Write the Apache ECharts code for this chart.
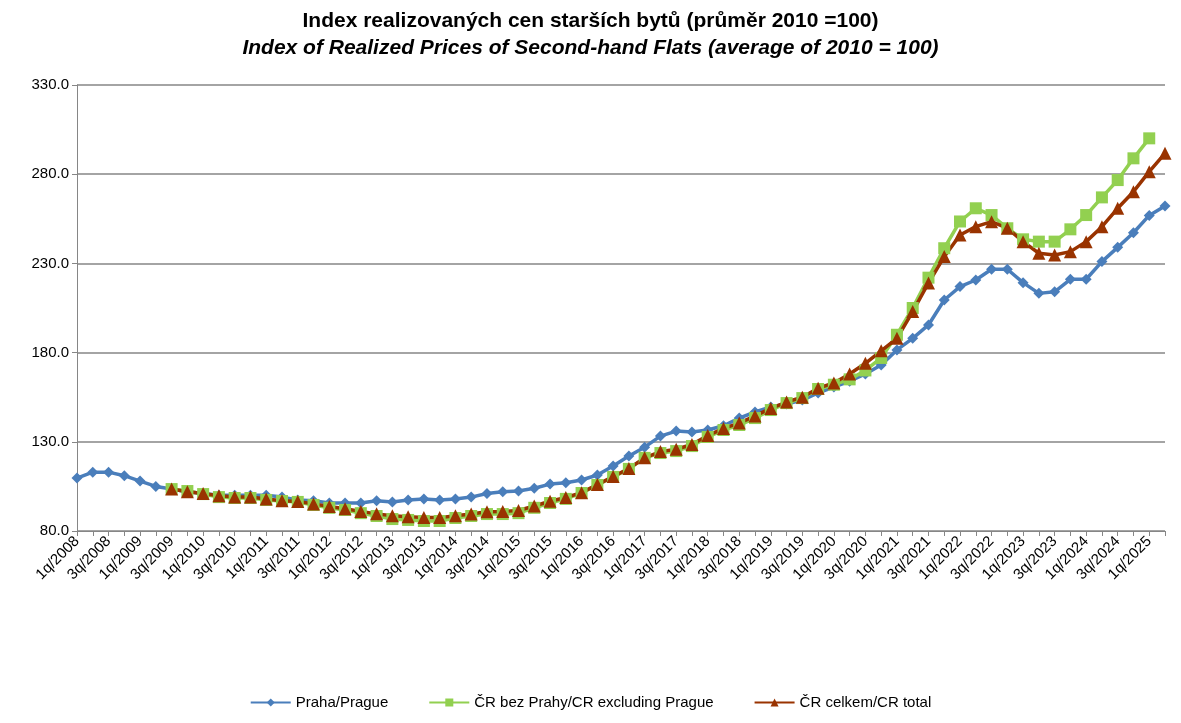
<!DOCTYPE html>
<html><head><meta charset="utf-8">
<script src="https://cdn.jsdelivr.net/npm/echarts@6/dist/echarts.min.js"></script>
<style>html,body{margin:0;padding:0;background:#fff}#c{width:1181px;height:723px}</style>
</head><body><div id="c"></div>
<script>
const categories = [];
for (let y = 2008; y <= 2025; y++) for (let q = 1; q <= 4; q++) { if (y === 2025 && q > 2) break; categories.push(q + 'q/' + y); }
const praha = [109.7,113,113,111,108,105,103.5,102,101,100,100,100,100,99,97.4,97,95.7,95.7,95.7,97,96.3,97.4,98,97.4,98,99,101,102,102.4,104,106.3,107,108.6,111.4,116.4,122,127,133.2,136,135.5,136.6,139,143.3,146.7,149.5,151.2,153.4,157.4,160.7,164,168,173,181.5,188,195.5,209.5,217,220.7,226.7,226.7,219.2,213.2,214.1,221.1,221.1,231,239,247.2,256.9,262.2];
const crBezPrahy = [null,null,null,null,null,null,103.5,102.4,100.7,99,98.5,98.5,97.4,96.8,96.3,94.6,93,91.8,90,88.4,86.7,86.2,85.6,85.6,87.3,88.4,89.5,89.5,90,93,95.7,98,101.3,105.8,110.3,114.8,121,123.7,124.8,127.6,132.7,136.6,139.4,143.3,147.8,151.7,154.5,159.6,162,165,170,177,190,205,222,238.5,253.5,260.9,257.1,249.7,243.5,242.2,242.2,249.1,257.1,267,276.7,288.9,300.1];
const crCelkem = [null,null,null,null,null,null,103.5,102,101,99.8,99,99,98,97,96.5,95.2,93.7,92.5,91,89.6,88.5,88,87.5,87.5,88.5,89.5,90.8,91,91.5,94,96.7,98.8,101.5,106,110.5,115,121,124.5,125.8,128.5,133.5,137.5,140.5,144.5,148.7,152.3,155,160,163,168,174,181,188,203,219,233.8,245.9,250.6,253.4,249.7,242.2,235.7,234.7,236.6,242.2,250.6,260.9,270.2,281.4,291.7];
const seriesNames = ['Praha/Prague','ČR bez Prahy/CR excluding Prague','ČR celkem/CR total'];
const chart = echarts.init(document.getElementById('c'));
const ff = 'Liberation Sans, Arial, sans-serif';
chart.setOption({
  animation:false,
  textStyle:{fontFamily:ff},
  title:[
    {text:'Index realizovaných cen starších bytů (průměr 2010 =100)',left:'center',top:6,textStyle:{fontSize:21,fontWeight:'bold',color:'#000',fontFamily:ff}},
    {text:'Index of Realized Prices of Second-hand Flats (average of 2010 = 100)',left:'center',top:33,textStyle:{fontSize:21,fontWeight:'bold',fontStyle:'italic',color:'#000',fontFamily:ff}}
  ],
  legend:{bottom:8,itemGap:40,itemWidth:40,itemHeight:10,textStyle:{fontSize:15,color:'#000'},data:seriesNames},
  grid:{left:77,right:16,top:85,bottom:192},
  xAxis:{type:'category',data:categories,boundaryGap:false,
    axisLine:{lineStyle:{color:'#868686'}},axisTick:{show:true,interval:0,lineStyle:{color:'#868686'}},
    axisLabel:{interval:1,rotate:45,fontSize:15,color:'#000',margin:8}},
  yAxis:{type:'value',min:80,max:330,interval:50,
    axisLine:{show:true,lineStyle:{color:'#868686'}},axisTick:{show:true,lineStyle:{color:'#868686'}},
    splitLine:{lineStyle:{color:'#868686',width:1.5}},
    axisLabel:{formatter:v=>v.toFixed(1),fontSize:15,color:'#000'}},
  series:[
    {name:seriesNames[0],type:'line',data:praha,symbol:'diamond',symbolSize:11,showAllSymbol:true,color:'#4a7ebb',lineStyle:{width:3.5}},
    {name:seriesNames[1],type:'line',data:crBezPrahy,symbol:'rect',symbolSize:12,showAllSymbol:true,color:'#92d050',lineStyle:{width:3.5}},
    {name:seriesNames[2],type:'line',data:crCelkem,symbol:'triangle',symbolSize:13,showAllSymbol:true,color:'#993300',lineStyle:{width:3.5}}
  ]
});
</script></body></html>
